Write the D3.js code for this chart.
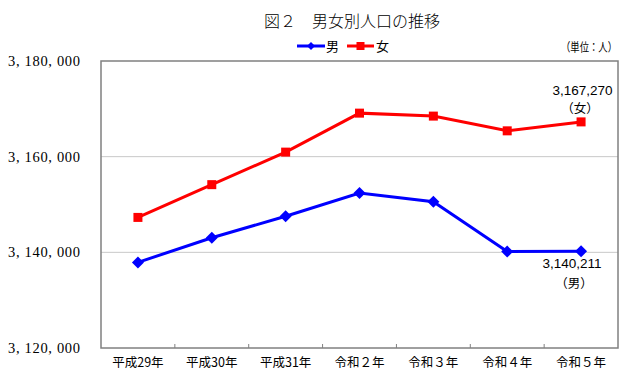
<!DOCTYPE html>
<html><head><meta charset="utf-8">
<script src="https://cdn.jsdelivr.net/npm/d3@7"></script>
<style>body{margin:0;background:#fff}svg{display:block}</style>
</head><body><svg id="c" width="635" height="387"></svg>
<script>
const categories = ["平成29年","平成30年","平成31年","令和２年","令和３年","令和４年","令和５年"];
const male   = [3137900, 3143050, 3147550, 3152400, 3150560, 3140150, 3140211];
const female = [3147300, 3154150, 3160950, 3169100, 3168480, 3165400, 3167270];
const yTicks = [3120000, 3140000, 3160000, 3180000];
const seriesNames = ["男","女"];

const svg = d3.select("#c");
const m = {l:101, r:618, t:61, b:348};
const serif = "'Liberation Serif','Noto Sans CJK JP',serif";
const cjk = "'Noto Sans CJK JP',sans-serif";

const x = d3.scaleBand().domain(categories).range([m.l, m.r]);
const y = d3.scaleLinear().domain([3120000, 3180000]).range([m.b, m.t]);

// gridlines
svg.append("g").selectAll("line").data(yTicks.slice(1,-1)).join("line")
  .attr("x1", m.l).attr("x2", m.r).attr("y1", d=>y(d)).attr("y2", d=>y(d))
  .attr("stroke", "#c8c8c8").attr("stroke-width", 1);

// plot border
svg.append("rect").attr("x", m.l).attr("y", m.t).attr("width", m.r-m.l).attr("height", m.b-m.t)
  .attr("fill","none").attr("stroke","#808080").attr("stroke-width",1.5);

// x ticks (band boundaries)
svg.append("g").selectAll("line").data(categories.slice(1)).join("line")
  .attr("x1", d=>x(d)).attr("x2", d=>x(d)).attr("y1", m.b).attr("y2", m.b-4)
  .attr("stroke","#808080");

// y labels
const fmt = d => d3.format(",")(d).replace(/,/g, ", ");
svg.append("g").selectAll("text").data(yTicks).join("text")
  .attr("x", 80).attr("y", d=>y(d)+5).attr("text-anchor","end")
  .attr("font-family", serif).attr("font-size", 14.5).attr("fill","#000")
  .attr("textLength", 72).attr("lengthAdjust","spacing")
  .text(fmt);

// x labels
svg.append("g").selectAll("text").data(categories).join("text")
  .attr("x", d=>x(d)+x.bandwidth()/2).attr("y", 367).attr("text-anchor","middle")
  .attr("font-family", cjk).attr("font-size", 12.5).attr("fill","#000")
  .text(d=>d);

const cx = (d,i) => x(categories[i]) + x.bandwidth()/2;
const line = d3.line().x((d,i)=>cx(d,i)).y(d=>y(d));

function diamond(g, px, py, s, color){
  g.append("path").attr("d", `M${px},${py-s}L${px+s},${py}L${px},${py+s}L${px-s},${py}Z`).attr("fill", color);
}

// female
svg.append("path").datum(female).attr("d", line).attr("fill","none").attr("stroke","#ff0000").attr("stroke-width",3);
svg.append("g").selectAll("rect").data(female).join("rect")
  .attr("x",(d,i)=>cx(d,i)-4.5).attr("y",d=>y(d)-4.5).attr("width",9).attr("height",9).attr("fill","#ff0000");

// male
svg.append("path").datum(male).attr("d", line).attr("fill","none").attr("stroke","#0000ff").attr("stroke-width",3);
const mg = svg.append("g");
male.forEach((d,i)=>diamond(mg, cx(d,i), y(d), 6, "#0000ff"));

// title
svg.append("text").attr("x", 352).attr("y", 27).attr("text-anchor","middle")
  .attr("font-family", cjk).attr("font-size", 16).attr("font-weight", 300).text("図２　男女別人口の推移");

// legend
const lg = svg.append("g");
lg.append("line").attr("x1",297).attr("x2",325).attr("y1",46).attr("y2",46).attr("stroke","#0000ff").attr("stroke-width",3);
diamond(lg, 311, 46, 4, "#0000ff");
lg.append("text").attr("x",326).attr("y",51).attr("font-family",cjk).attr("font-size",13).text(seriesNames[0]);
lg.append("line").attr("x1",347).attr("x2",374).attr("y1",46).attr("y2",46).attr("stroke","#ff0000").attr("stroke-width",3);
lg.append("rect").attr("x",356.5).attr("y",42).attr("width",8).attr("height",8).attr("fill","#ff0000");
lg.append("text").attr("x",376).attr("y",51).attr("font-family",cjk).attr("font-size",13).text(seriesNames[1]);

// unit
svg.append("text").attr("x", 617).attr("y", 52).attr("text-anchor","end")
  .attr("font-family", cjk).attr("font-size", 12)
  .attr("textLength", 56).attr("lengthAdjust","spacingAndGlyphs").text("（単位：人）");

// annotations
const sans = "'Liberation Sans',Arial,sans-serif";
svg.append("text").attr("x", 582.5).attr("y", 95).attr("text-anchor","middle")
  .attr("font-family", sans).attr("font-size", 13.5).text(d3.format(",")(female[6]));
svg.append("text").attr("x", 580).attr("y", 113).attr("text-anchor","middle")
  .attr("font-family", cjk).attr("font-size", 12.5).text("（" + seriesNames[1] + "）");
svg.append("text").attr("x", 572).attr("y", 268).attr("text-anchor","middle")
  .attr("font-family", sans).attr("font-size", 13.5).text(d3.format(",")(male[6]));
svg.append("text").attr("x", 574).attr("y", 288).attr("text-anchor","middle")
  .attr("font-family", cjk).attr("font-size", 12.5).text("（" + seriesNames[0] + "）");
</script></body></html>
